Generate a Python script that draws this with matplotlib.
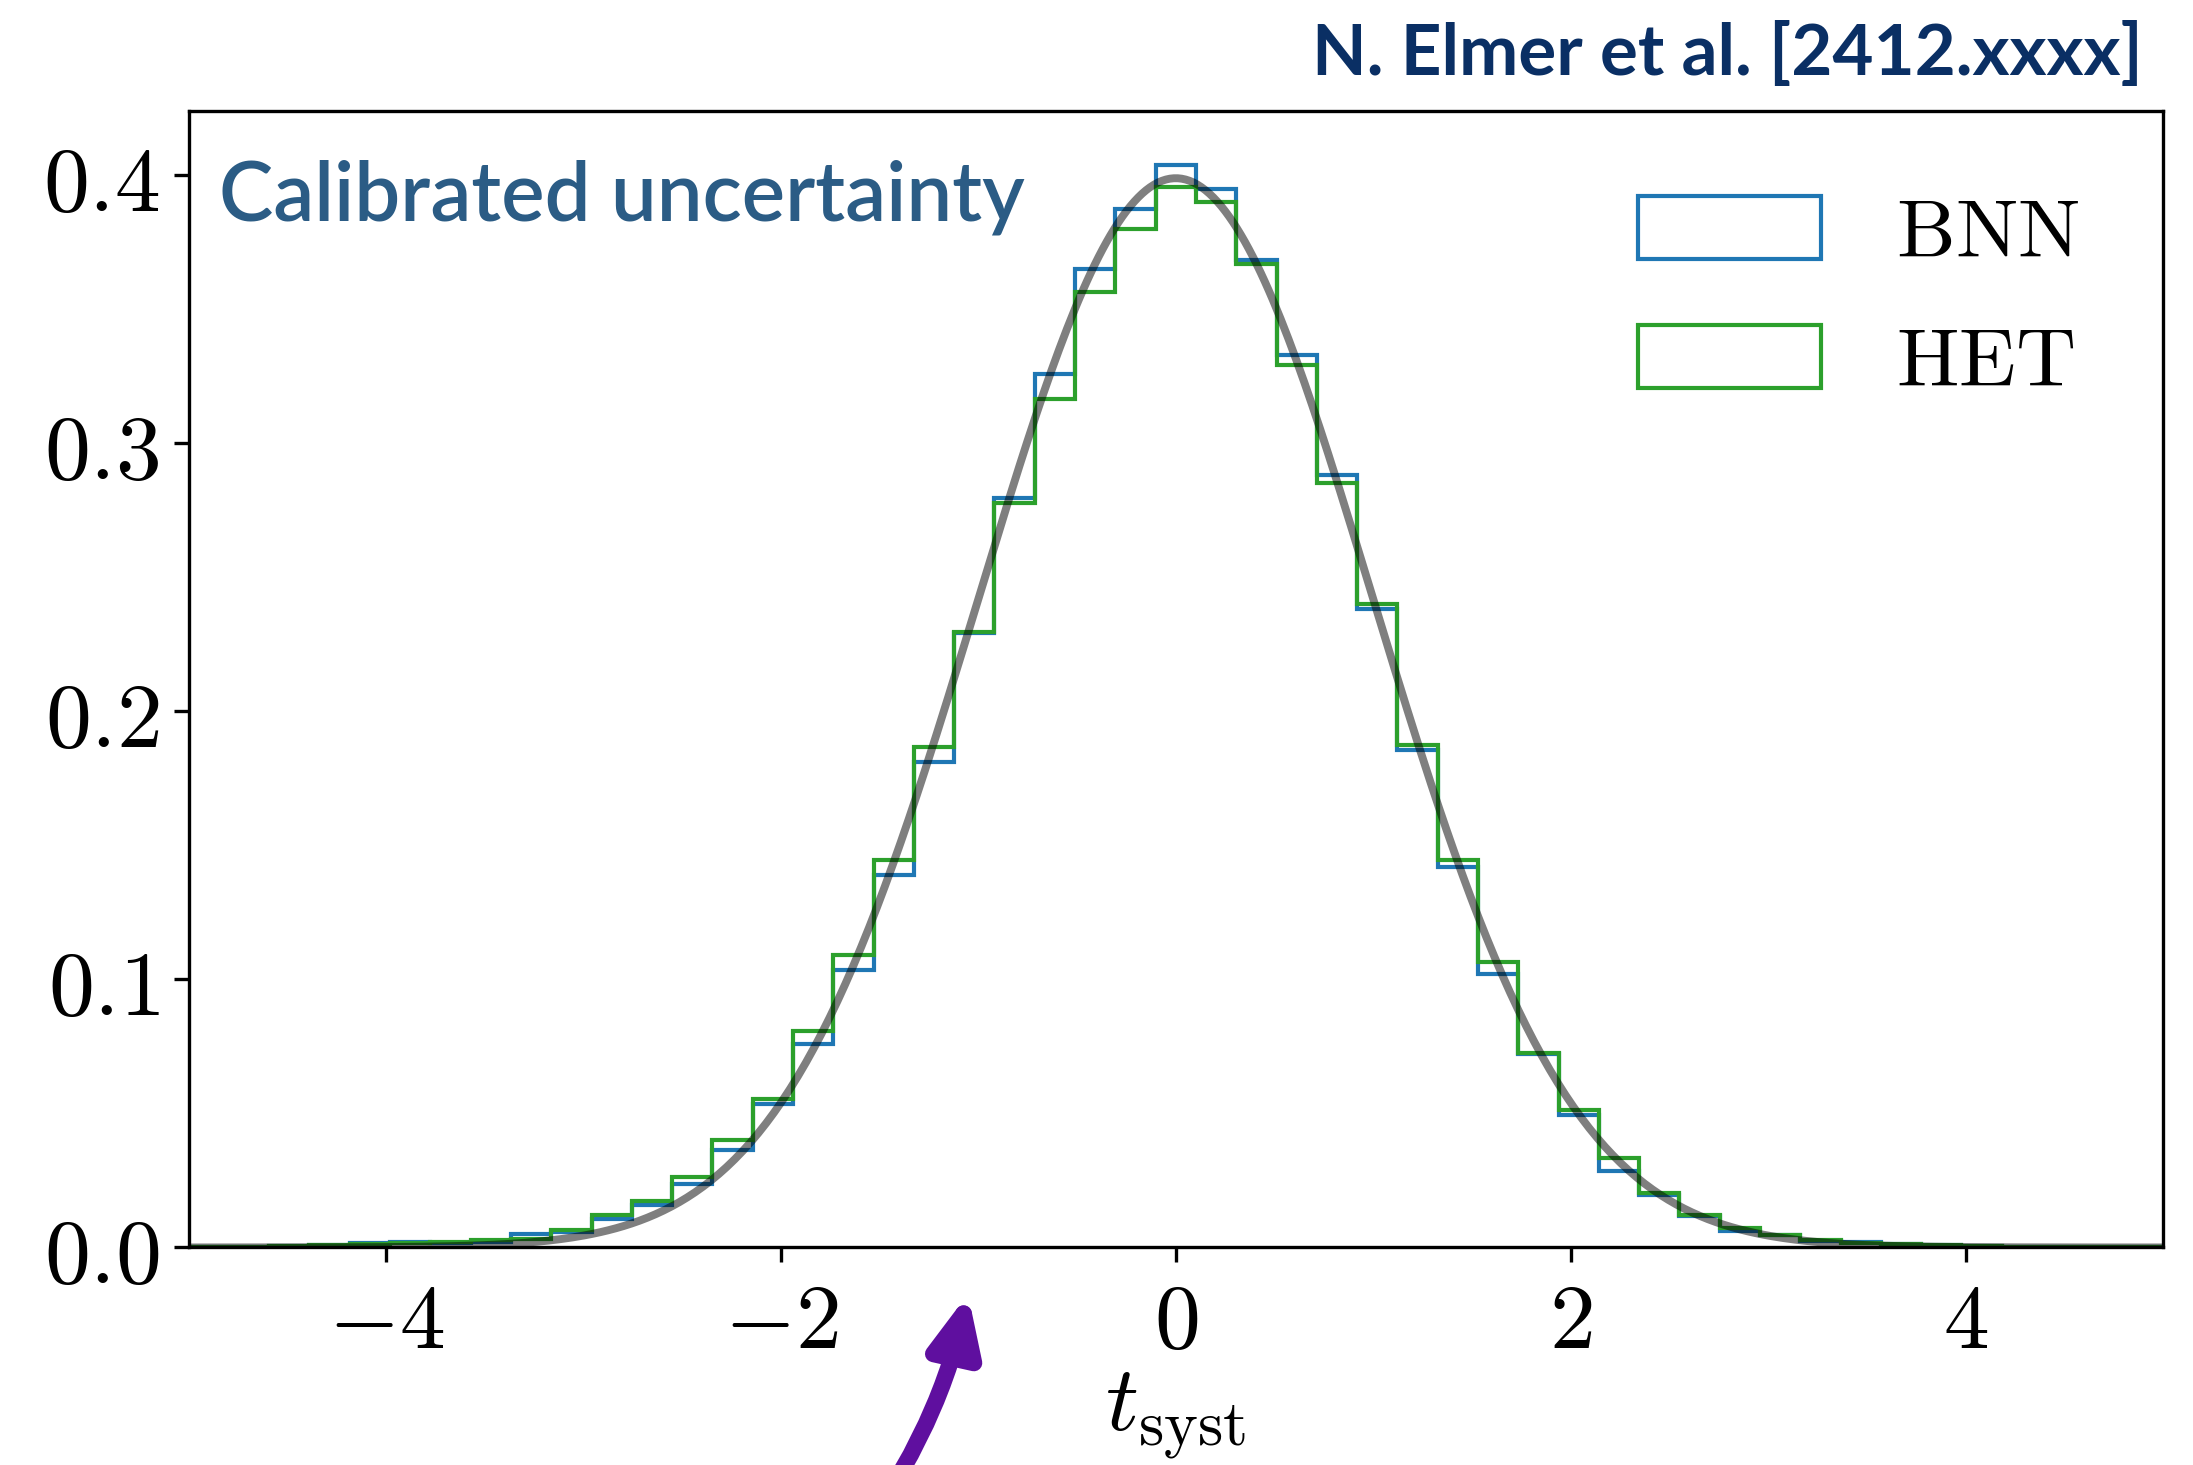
import numpy as np
import matplotlib
matplotlib.use("Agg")
import matplotlib.pyplot as plt
from matplotlib.patches import FancyArrowPatch
from matplotlib.ticker import FuncFormatter

# histogram heights (density), 49 bins on [-5, 5]
x_range = (-5.0, 5.0)
n_bins = 49

bnn_density = [0.0002, 0.0003, 0.0004, 0.0008, 0.0016, 0.0019, 0.0017, 0.0022,
               0.0050, 0.0057, 0.0105, 0.0159, 0.0236, 0.0364, 0.0535, 0.0758,
               0.1036, 0.1388, 0.1811, 0.2293, 0.2798, 0.3259, 0.3649, 0.3874,
               0.4038, 0.3950, 0.3686, 0.3330, 0.2882, 0.2383, 0.1857, 0.1421,
               0.1021, 0.0722, 0.0495, 0.0287, 0.0195, 0.0119, 0.0061, 0.0045,
               0.0023, 0.0020, 0.0012, 0.0009, 0.0005, 0.0003, 0.0002, 0.0001,
               0.0001]
het_density = [0.0002, 0.0003, 0.0005, 0.0009, 0.0012, 0.0015, 0.0022, 0.0028,
               0.0032, 0.0065, 0.0121, 0.0174, 0.0264, 0.0401, 0.0553, 0.0806,
               0.1092, 0.1446, 0.1866, 0.2296, 0.2776, 0.3166, 0.3563, 0.3801,
               0.3956, 0.3902, 0.3671, 0.3294, 0.2853, 0.2401, 0.1873, 0.1445,
               0.1065, 0.0725, 0.0513, 0.0333, 0.0202, 0.0121, 0.0072, 0.0048,
               0.0026, 0.0016, 0.0012, 0.0008, 0.0005, 0.0003, 0.0002, 0.0001,
               0.0001]
series_labels = ["BNN", "HET"]
series_colors = ["#1f77b4", "#2ca02c"]

# reference standard normal
gauss_mu = 0.0
gauss_sigma = 1.0

x_ticks = [-4, -2, 0, 2, 4]
y_ticks = [0.0, 0.1, 0.2, 0.3, 0.4]

plt.rcParams["mathtext.fontset"] = "cm"

fig = plt.figure(figsize=(2193 / 300, 1465 / 300), dpi=300)
ax = fig.add_axes([0.086, 0.1485, 0.9003, 0.7757])

edges = np.linspace(x_range[0], x_range[1], n_bins + 1)
centers = 0.5 * (edges[1:] + edges[:-1])
for vals, lab, col in zip([bnn_density, het_density], series_labels, series_colors):
    ax.hist(centers, bins=edges, weights=vals, histtype="step", color=col,
            lw=1.0, label=r"$\mathrm{%s}$" % lab)

xs = np.linspace(x_range[0], x_range[1], 500)
pdf = np.exp(-0.5 * ((xs - gauss_mu) / gauss_sigma) ** 2) / (gauss_sigma * np.sqrt(2 * np.pi))
ax.plot(xs, pdf, color="black", alpha=0.5, lw=1.9, zorder=5)

ax.set_xlim(*x_range)
ax.set_ylim(0, 0.424)
ax.set_xticks(x_ticks)
ax.set_yticks(y_ticks)
ax.xaxis.set_major_formatter(FuncFormatter(lambda v, p: r"$%d$" % v))
ax.yaxis.set_major_formatter(FuncFormatter(lambda v, p: r"$%.1f$" % v))
ax.tick_params(labelsize=22)
ax.set_xlabel(r"$t_\mathrm{syst}$", fontsize=22, labelpad=1)

ax.legend(loc="upper right", bbox_to_anchor=(0.9957, 0.994), frameon=False,
          fontsize=20, handlelength=2.2, handleheight=0.79, handletextpad=0.9,
          labelspacing=0.57)

ax.text(0.0155, 0.904, "Calibrated uncertainty", transform=ax.transAxes,
        ha="left", va="baseline", fontsize=19.6, family="Lato", weight="semibold",
        color="#2b5c85")
fig.text(0.977, 0.949, "N. Elmer et al. [2412.xxxx]", ha="right", va="baseline",
         fontsize=17, family="Lato", weight="bold", color="#0a2f64")

arrow = FancyArrowPatch((0.3835, -0.0648), (0.4414, 0.1167), transform=fig.transFigure,
                        connectionstyle="arc3,rad=0.115",
                        arrowstyle="-|>,head_width=0.5,head_length=1.1",
                        mutation_scale=10, lw=4, color="#5f0f9f",
                        shrinkA=0, shrinkB=0)
fig.add_artist(arrow)

fig.savefig("out.png", dpi=300)
